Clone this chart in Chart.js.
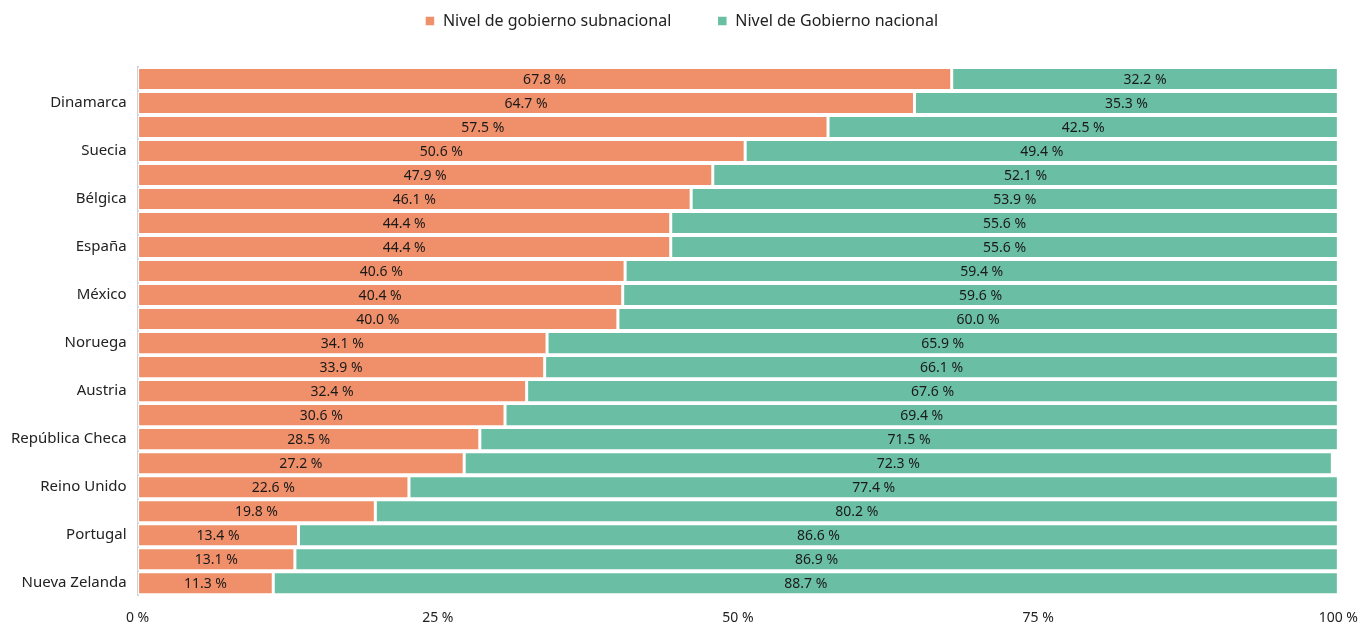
<!DOCTYPE html>
<html lang="es">
<head>
<meta charset="UTF-8"/>
<title>Gasto por nivel de gobierno</title>
<script src="https://cdn.jsdelivr.net/npm/chart.js"></script>
<style>
 html,body{margin:0;padding:0;background:#fff}
 #wrap{width:1364px;height:623px;position:relative}
</style>
</head>
<body>
<div id="wrap"><canvas id="chart"></canvas></div>

<script>
// only every second country is named on the axis
const paises = ['', 'Dinamarca', '', 'Suecia', '', 'Bélgica', '', 'España', '', 'México', '',
  'Noruega', '', 'Austria', '', 'República Checa', '', 'Reino Unido', '', 'Portugal', '', 'Nueva Zelanda'];
const subnacional = [67.8, 64.7, 57.5, 50.6, 47.9, 46.1, 44.4, 44.4, 40.6, 40.4, 40.0,
  34.1, 33.9, 32.4, 30.6, 28.5, 27.2, 22.6, 19.8, 13.4, 13.1, 11.3];
const nacional = [32.2, 35.3, 42.5, 49.4, 52.1, 53.9, 55.6, 55.6, 59.4, 59.6, 60.0,
  65.9, 66.1, 67.6, 69.4, 71.5, 72.3, 77.4, 80.2, 86.6, 86.9, 88.7];
const ticksX = [0, 25, 50, 75, 100];

const FONT = '"Noto Sans", sans-serif';

// value text in the middle of every segment
const etiquetas = {
  id: 'etiquetas',
  afterDatasetsDraw(chart) {
    const ctx = chart.ctx;
    ctx.save();
    ctx.font = '14px ' + FONT;
    ctx.fillStyle = '#1a1a1a';
    ctx.textAlign = 'center';
    ctx.textBaseline = 'middle';
    chart.data.datasets.forEach((ds, i) => {
      chart.getDatasetMeta(i).data.forEach((bar, j) => {
        const v = ds.data[j];
        ctx.fillText(v.toFixed(1) + ' %', (bar.x + bar.base) / 2, bar.y + 1);
      });
    });
    ctx.restore();
  }
};

// extra room between the legend and the bars, and legend nudged to the page centre
const espacioLeyenda = {
  id: 'espacioLeyenda',
  afterInit(chart) {
    const legend = chart.legend;
    const fit = legend.fit;
    legend.fit = function () {
      fit.call(this);
      this.height += 28;
    };
    const draw = legend.draw;
    legend.draw = function () {
      this.ctx.save();
      this.ctx.translate(9, 0);
      draw.call(this);
      this.ctx.restore();
    };
  }
};

new Chart(document.getElementById('chart'), {
  type: 'bar',
  data: {
    labels: paises,
    datasets: [
      { label: 'Nivel de gobierno subnacional', data: subnacional,
        backgroundColor: '#F0906B', borderColor: '#fff', borderWidth: 1.5, borderSkipped: false },
      { label: 'Nivel de Gobierno nacional', data: nacional,
        backgroundColor: '#6ABEA3', borderColor: '#fff', borderWidth: 1.5, borderSkipped: false }
    ]
  },
  options: {
    indexAxis: 'y',
    responsive: true,
    maintainAspectRatio: false,
    animation: false,
    datasets: { bar: { barPercentage: 0.96, categoryPercentage: 1 } },
    layout: { padding: { top: -33, right: 19, bottom: -9, left: 0 } },
    plugins: {
      legend: {
        position: 'top',
        labels: {
          font: { family: FONT, size: 16 },
          color: '#222',
          usePointStyle: true,
          pointStyle: 'rect',
          boxWidth: 10,
          boxHeight: 10,
          padding: 46
        }
      },
      tooltip: { enabled: false }
    },
    scales: {
      x: {
        stacked: true,
        min: 0,
        max: 100,
        afterBuildTicks: s => { s.ticks = ticksX.map(v => ({ value: v })); },
        ticks: {
          callback: v => v + ' %',
          font: { family: FONT, size: 14 },
          color: '#222',
          padding: 6,
          maxRotation: 0
        },
        grid: { display: false },
        border: { display: false }
      },
      y: {
        stacked: true,
        ticks: {
          autoSkip: false,
          font: { family: FONT, size: 15 },
          color: '#222',
          padding: 11
        },
        grid: { color: 'transparent', drawTicks: false },
        border: { display: true, color: '#d0d0d0', width: 2 }
      }
    }
  },
  plugins: [etiquetas, espacioLeyenda]
});
</script>
</body>
</html>
